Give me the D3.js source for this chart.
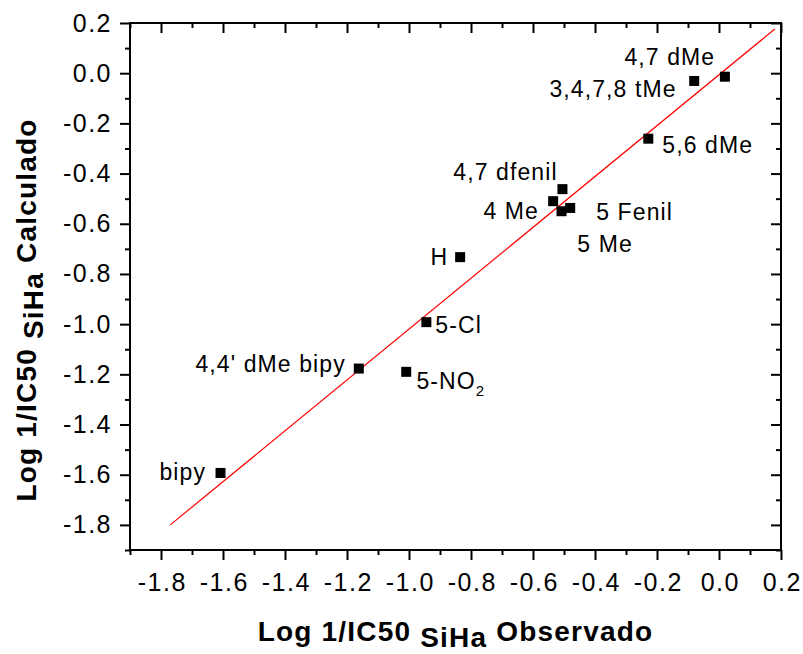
<!DOCTYPE html>
<html>
<head>
<meta charset="utf-8">
<script src="https://cdn.jsdelivr.net/npm/d3@7"></script>
<style>
  html, body { margin: 0; padding: 0; background: #fff; }
  svg { display: block; font-family: "Liberation Sans", Arial, sans-serif; }
</style>
</head>
<body>
<svg id="chart" width="803" height="654"></svg>
<script>
// compounds, observed vs calculated log 1/IC50 (SiHa)
const compounds = ['bipy', "4,4' dMe bipy", '5-NO2', '5-Cl', 'H', '4,7 dfenil',
    '4 Me', '5 Me', '5 Fenil', '5,6 dMe', '3,4,7,8 tMe', '4,7 dMe'];
const observed = [-1.608, -1.162, -1.009, -0.944, -0.835, -0.505,
    -0.535, -0.508, -0.48, -0.228, -0.08, 0.019];
const calculated = [-1.593, -1.177, -1.19, -0.992, -0.733, -0.462,
    -0.51, -0.55, -0.537, -0.261, -0.031, -0.014];

// where each name is written (data units, left edge / middle)
const labelX = [-1.805, -1.689, -0.976, -0.915, -0.931, -0.857,
    -0.76, -0.457, -0.396, -0.183, -0.547, -0.305];
const labelY = [-1.589, -1.159, -1.227, -1.004, -0.733, -0.394,
    -0.549, -0.681, -0.553, -0.286, -0.063, 0.064];

// fitted line ends
const fitX = [-1.77, 0.18];
const fitY = [-1.80, 0.176];

const tickValues = [-1.8, -1.6, -1.4, -1.2, -1.0, -0.8, -0.6, -0.4, -0.2, 0.0, 0.2];
const minorValues = [-1.9, -1.7, -1.5, -1.3, -1.1, -0.9, -0.7, -0.5, -0.3, -0.1, 0.1];

const margin = { left: 130, right: 22, top: 23, bottom: 104 },
    width = 803, height = 654;

const svg = d3.select('#chart');

const x = d3.scaleLinear().domain([-1.9, 0.2]).range([margin.left, width - margin.right]);
const y = d3.scaleLinear().domain([-1.9, 0.2]).range([height - margin.bottom, margin.top]);

// plain hyphen for the minus, like the original
const fmt = d => (Math.abs(d) < 1e-9 ? 0 : d).toFixed(1);

function styleAxis(g, labelled) {
    g.select('.domain').remove();
    g.selectAll('line').attr('stroke', '#000').attr('stroke-width', 2);
    if (labelled) {
        g.selectAll('text')
            .attr('fill', '#000')
            .style('font-size', '25px')
            .style('letter-spacing', '1.5px')
            .style('font-family', '"Liberation Sans", Arial, sans-serif');
    } else {
        g.selectAll('text').remove();
    }
}

const x0 = x.range()[0], x1 = x.range()[1], y0 = y.range()[0], y1 = y.range()[1];

// bottom
svg.append('g').attr('transform', `translate(0,${y0})`)
    .call(d3.axisBottom(x).tickValues(tickValues).tickFormat(fmt).tickSize(10).tickPadding(13))
    .call(g => styleAxis(g, true))
    .call(g => g.selectAll('text').attr('dx', '0.75px'));
svg.append('g').attr('transform', `translate(0,${y0})`)
    .call(d3.axisBottom(x).tickValues(minorValues).tickSize(5))
    .call(g => styleAxis(g, false));

// left
svg.append('g').attr('transform', `translate(${x0},0)`)
    .call(d3.axisLeft(y).tickValues(tickValues).tickFormat(fmt).tickSize(10).tickPadding(8))
    .call(g => styleAxis(g, true));
svg.append('g').attr('transform', `translate(${x0},0)`)
    .call(d3.axisLeft(y).tickValues(minorValues).tickSize(5))
    .call(g => styleAxis(g, false));

// top and right, ticks pointing in
svg.append('g').attr('transform', `translate(0,${y1})`)
    .call(d3.axisTop(x).tickValues(tickValues).tickSize(-10))
    .call(g => styleAxis(g, false));
svg.append('g').attr('transform', `translate(0,${y1})`)
    .call(d3.axisTop(x).tickValues(minorValues).tickSize(-5))
    .call(g => styleAxis(g, false));
svg.append('g').attr('transform', `translate(${x1},0)`)
    .call(d3.axisRight(y).tickValues(tickValues).tickSize(-10))
    .call(g => styleAxis(g, false));
svg.append('g').attr('transform', `translate(${x1},0)`)
    .call(d3.axisRight(y).tickValues(minorValues).tickSize(-5))
    .call(g => styleAxis(g, false));

// frame
svg.append('rect')
    .attr('x', x0).attr('y', y1)
    .attr('width', x1 - x0).attr('height', y0 - y1)
    .attr('fill', 'none').attr('stroke', '#000').attr('stroke-width', 2);

// fit line
svg.append('line')
    .attr('x1', x(fitX[0])).attr('y1', y(fitY[0]))
    .attr('x2', x(fitX[1])).attr('y2', y(fitY[1]))
    .attr('stroke', '#ff0000').attr('stroke-width', 1.2);

// points
const sq = 10;
svg.append('g').selectAll('rect')
    .data(compounds)
    .join('rect')
    .attr('x', (d, i) => x(observed[i]) - sq / 2)
    .attr('y', (d, i) => y(calculated[i]) - sq / 2)
    .attr('width', sq).attr('height', sq)
    .attr('fill', '#000');

// names
const labels = svg.append('g')
    .style('font-size', '23px')
    .style('letter-spacing', '1.1px')
    .attr('fill', '#000');

labels.selectAll('text')
    .data(compounds)
    .join('text')
    .attr('x', (d, i) => x(labelX[i]))
    .attr('y', (d, i) => y(labelY[i]))
    .attr('dy', '0.36em')
    .each(function(d) {
        const t = d3.select(this);
        if (d === '5-NO2') {
            t.append('tspan').text('5-NO');
            t.append('tspan').attr('dy', 7).style('font-size', '15px').text('2');
        } else {
            t.text(d);
        }
    });

// axis titles
const xTitle = svg.append('text')
    .attr('x', (x0 + x1) / 2)
    .attr('y', 641)
    .attr('text-anchor', 'middle')
    .style('font-size', '28px')
    .style('font-weight', 'bold')
    .style('letter-spacing', '1.2px');
xTitle.append('tspan').text('Log 1/IC50 ');
xTitle.append('tspan').attr('dy', 6).text('SiHa');
xTitle.append('tspan').attr('dy', -6).text(' Observado');

const yTitle = svg.append('text')
    .attr('transform', `translate(36,310) rotate(-90)`)
    .attr('text-anchor', 'middle')
    .style('font-size', '28px')
    .style('font-weight', 'bold')
    .style('letter-spacing', '1.2px');
yTitle.append('tspan').text('Log 1/IC50 ');
yTitle.append('tspan').attr('dy', 7).text('SiHa');
yTitle.append('tspan').attr('dy', -7).text(' Calculado');
</script>
</body>
</html>
